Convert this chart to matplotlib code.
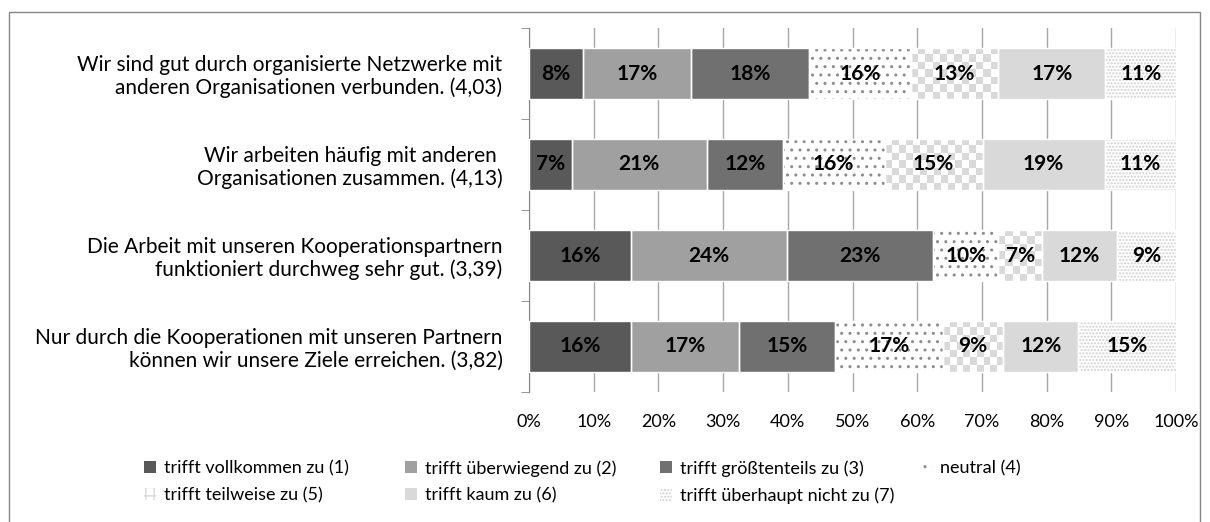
import matplotlib.pyplot as plt
import numpy as np
from matplotlib.colors import ListedColormap
from matplotlib.patches import Patch, Rectangle

plt.rcParams['font.family'] = ['Lato', 'DejaVu Sans']

questions = [
    "Wir sind gut durch organisierte Netzwerke mit\nanderen Organisationen verbunden. (4,03)",
    "Wir arbeiten häufig mit anderen \nOrganisationen zusammen. (4,13)",
    "Die Arbeit mit unseren Kooperationspartnern\nfunktioniert durchweg sehr gut. (3,39)",
    "Nur durch die Kooperationen mit unseren Partnern\nkönnen wir unsere Ziele erreichen. (3,82)",
]
answers = [
    "trifft vollkommen zu (1)",
    "trifft überwiegend zu (2)",
    "trifft größtenteils zu (3)",
    "neutral (4)",
    "trifft teilweise zu (5)",
    "trifft kaum zu (6)",
    "trifft überhaupt nicht zu (7)",
]
# Anteile je Antwort (Spalten) für jede Aussage (Zeilen), in %
shares = np.array([
    [8.3, 16.8, 18.1, 15.9, 13.4, 16.6, 10.9],
    [6.6, 20.9, 11.7, 15.8, 15.1, 18.9, 11.0],
    [15.8, 24.1, 22.6, 10.0, 6.8, 11.6, 9.1],
    [15.8, 16.7, 14.8, 16.7, 9.3, 11.6, 15.1],
])
xticks = np.arange(0, 101, 10)

# Aussehen je Antwort
faces = ['#595959', '#a0a0a0', '#707070', 'white', 'white', '#d9d9d9', 'white']
hatches = [None, None, None, '..', None, None, '.....']
hatch_cols = [None, None, None, '#8c8c8c', None, None, '#cfcfcf']

fig = plt.figure(figsize=(12.1, 5.22), dpi=100)
ax = fig.add_axes([529 / 1210, 1 - 392 / 522, (1176 - 529) / 1210, (392 - 28) / 522])

y = np.arange(len(questions))
h = 0.57
left = np.zeros(len(questions))
containers = []
for j, name in enumerate(answers):
    vals = shares[:, j]
    if hatches[j]:
        bars = ax.barh(y, vals, h, left=left, color=faces[j], hatch=hatches[j],
                       edgecolor=hatch_cols[j], linewidth=0, zorder=2)
    else:
        bars = ax.barh(y, vals, h, left=left, color=faces[j], linewidth=0, zorder=2)
    if j == 4:
        # Schachbrettmuster
        cmap = ListedColormap(['white', '#d9d9d9'])
        for p in bars:
            x0, y0, w, hh = p.get_x(), p.get_y(), p.get_width(), p.get_height()
            nx = max(1, int(round(w * 6.47 / 7)))
            ny = max(1, int(round(hh * 91 / 7)))
            board = np.add.outer(np.arange(ny), np.arange(nx)) % 2
            im = ax.imshow(board, cmap=cmap, extent=(x0, x0 + w, y0, y0 + hh),
                           interpolation='nearest', aspect='auto', zorder=2.5)
            im.set_clip_path(p)
    ax.barh(y, vals, h, left=left, fill=False, edgecolor='white', linewidth=1, zorder=3)
    ax.bar_label(bars, labels=[f"{v:.0f}%" for v in vals], label_type='center',
                 fontsize=15, fontweight='bold', color='black', zorder=5)
    containers.append(bars)
    left += vals

ax.set_xlim(0, 100)
ax.set_ylim(len(questions) - 0.5, -0.5)
ax.set_xticks(xticks, labels=[f"{t}%" for t in xticks], fontsize=13)
ax.set_yticks(y, labels=questions, fontsize=15, linespacing=1.12)
ax.set_yticks(np.arange(-0.5, len(questions)), minor=True)
ax.tick_params(axis='x', length=0, pad=16)
ax.tick_params(axis='y', which='major', length=0, pad=19)
ax.tick_params(axis='y', which='minor', length=6, color='#868686', direction='out')
ax.xaxis.grid(True, color='#a6a6a6', linewidth=1)
ax.set_axisbelow(True)
for s in ['top', 'right', 'bottom']:
    ax.spines[s].set_visible(False)
ax.spines['left'].set_color('#868686')

# Legende: vier Spalten mit gleichem Abstand
handles = []
for j, name in enumerate(answers):
    if j == 4:
        handles.append(Patch(facecolor='white', edgecolor='#d9d9d9', hatch='++', linewidth=0, label=name))
    elif hatches[j]:
        handles.append(Patch(facecolor=faces[j], edgecolor=hatch_cols[j], hatch=hatches[j], linewidth=0, label=name))
    else:
        handles.append(Patch(facecolor=faces[j], linewidth=0, label=name))
cols = [[0, 4], [1, 5], [2, 6], [3]]
col_x = [144, 405, 660, 920]
for c, idx in enumerate(cols):
    fig.legend(handles=[handles[i] for i in idx], loc='upper left',
               bbox_to_anchor=(col_x[c] / 1210, 1 - 460 / 522), frameon=False,
               fontsize=13, handlelength=0.65, handleheight=0.65, handletextpad=0.45,
               labelspacing=0.6, borderpad=0, borderaxespad=0)

fig.add_artist(Rectangle((9 / 1210, -0.01), (1200 - 9) / 1210, 1.01 - 12 / 522,
                         transform=fig.transFigure, fill=False, edgecolor='#868686',
                         linewidth=1))

fig.savefig('out.png', dpi=100)
